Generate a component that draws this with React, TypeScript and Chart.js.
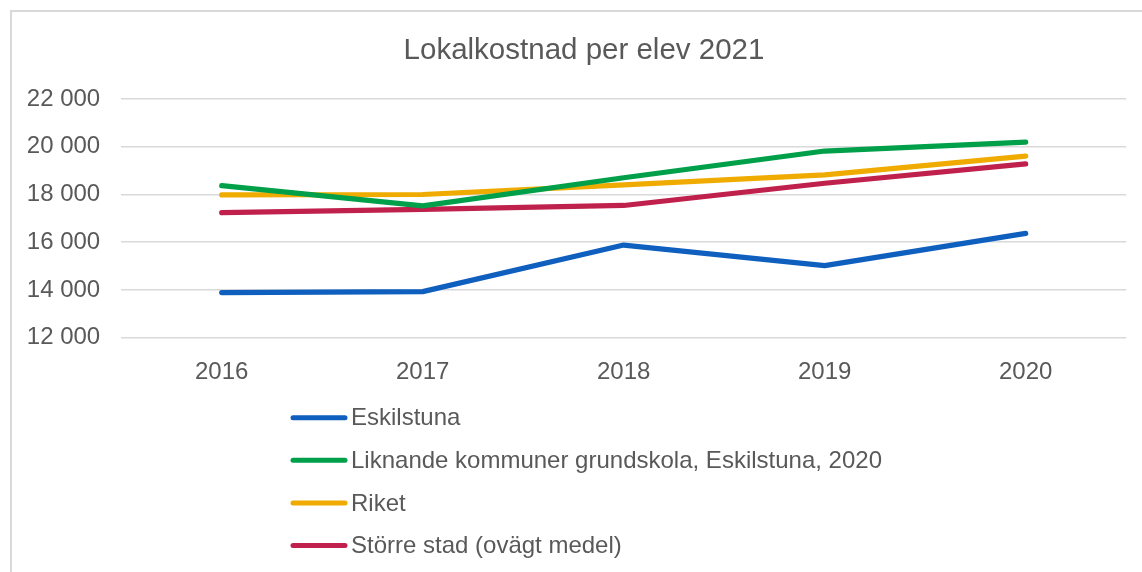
import React, { useEffect, useRef } from "react";
import { Chart, registerables } from "chart.js";

Chart.register(...registerables);

const TITLE = "Lokalkostnad per elev 2021";
const years = ["2016", "2017", "2018", "2019", "2020"];
const seriesNames = [
  "Eskilstuna",
  "Liknande kommuner grundskola, Eskilstuna, 2020",
  "Riket",
  "Större stad (ovägt medel)",
];
const eskilstuna = [13890, 13930, 15880, 15020, 16370];
const liknande = [18370, 17520, 18700, 19820, 20190];
const riket = [17980, 18000, 18400, 18820, 19610];
const storreStad = [17240, 17380, 17540, 18470, 19280];
const seriesColors = ["#0F5FBE", "#00A04A", "#F0AB00", "#C0214C"];
const Y_MIN = 12000;
const Y_MAX = 22000;
const Y_STEP = 2000;

const FONT = "'Liberation Sans', Arial, sans-serif";
const TEXT = "#595959";

const fmt = (v: number) => String(v).replace(/\B(?=(\d{3})+(?!\d))/g, " ");

const titleLegendPlugin = {
  id: "titleLegend",
  afterDraw(chart: any) {
    const ctx = chart.ctx;
    ctx.save();
    ctx.fillStyle = TEXT;
    ctx.font = `29.5px ${FONT}`;
    ctx.textAlign = "center";
    ctx.textBaseline = "alphabetic";
    ctx.fillText(TITLE, 584, 58.5);

    ctx.font = `24px ${FONT}`;
    ctx.textAlign = "left";
    ctx.textBaseline = "middle";
    chart.data.datasets.forEach((ds: any, i: number) => {
      const y = 417.7 + i * 42.6;
      ctx.strokeStyle = ds.borderColor;
      ctx.lineWidth = 5;
      ctx.lineCap = "round";
      ctx.beginPath();
      ctx.moveTo(293, y);
      ctx.lineTo(345, y);
      ctx.stroke();
      ctx.fillStyle = TEXT;
      ctx.fillText(ds.label, 351, y + 1);
    });
    ctx.restore();
  },
};

export default function App() {
  const ref = useRef<HTMLCanvasElement>(null);
  useEffect(() => {
    if (!ref.current) return;
    const values = [eskilstuna, liknande, riket, storreStad];
    const chart = new Chart(ref.current, {
      type: "line",
      data: {
        labels: years,
        datasets: values.map((d, i) => ({
          label: seriesNames[i],
          data: d,
          borderColor: seriesColors[i],
          backgroundColor: seriesColors[i],
          borderWidth: 5.2,
          borderCapStyle: "round" as const,
          borderJoinStyle: "round" as const,
          pointRadius: 0,
          tension: 0,
          fill: false,
        })),
      },
      options: {
        animation: false,
        responsive: false,
        layout: { padding: { left: 11, right: 15.8, top: 99, bottom: 184.3 } },
        plugins: {
          legend: { display: false },
          title: { display: false },
          tooltip: { enabled: false },
        },
        scales: {
          x: {
            offset: true,
            grid: { display: false },
            border: { display: false },
            ticks: { color: TEXT, font: { family: FONT, size: 24 }, padding: 12 },
            afterFit: (s: any) => {
              s.height = 50;
            },
          },
          y: {
            min: Y_MIN,
            max: Y_MAX,
            grid: { color: "#D9D9D9", lineWidth: 1.6, drawTicks: false },
            border: { display: false },
            ticks: {
              stepSize: Y_STEP,
              color: TEXT,
              font: { family: FONT, size: 24 },
              padding: 21,
              callback: (v: any) => fmt(Number(v)),
            },
            afterFit: (s: any) => {
              s.width = 110.2;
            },
          },
        },
      },
      plugins: [titleLegendPlugin],
    });
    return () => chart.destroy();
  }, []);

  return (
    <div
      style={{
        position: "fixed",
        left: 0,
        top: 0,
        width: 1142,
        height: 572,
        overflow: "hidden",
        background: "#fff",
      }}
    >
      <div
        style={{
          position: "absolute",
          left: 10,
          top: 10,
          width: 1160,
          height: 600,
          border: "2px solid #D9D9D9",
          boxSizing: "border-box",
        }}
      />
      <canvas
        ref={ref}
        width={1142}
        height={572}
        style={{ position: "absolute", left: 0, top: 0, width: 1142, height: 572 }}
      />
    </div>
  );
}
